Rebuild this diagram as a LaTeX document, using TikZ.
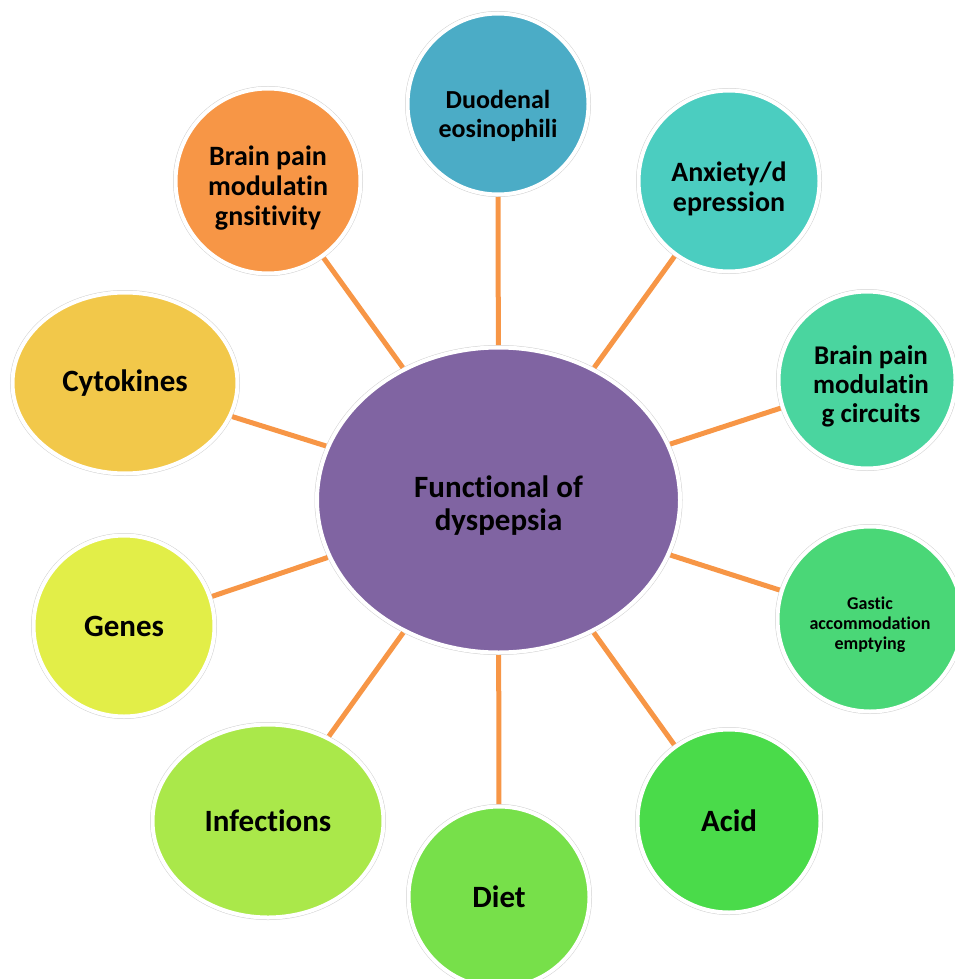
\documentclass[tikz,border=0pt]{standalone}
\usepackage{fontspec}
\setmainfont[Ligatures=NoCommon]{Carlito}
\usetikzlibrary{shapes.geometric}
\definecolor{cCenter}{HTML}{8064A2}
\definecolor{cDuo}{HTML}{4BACC6}
\definecolor{cAnx}{HTML}{4BCDC0}
\definecolor{cCirc}{HTML}{4AD59F}
\definecolor{cGas}{HTML}{4AD777}
\definecolor{cAcid}{HTML}{4ADB4A}
\definecolor{cDiet}{HTML}{77E04A}
\definecolor{cInf}{HTML}{AAE84A}
\definecolor{cGen}{HTML}{E2EE48}
\definecolor{cCyt}{HTML}{F2C84A}
\definecolor{cSens}{HTML}{F79646}
\definecolor{cLink}{HTML}{F79646}
\tikzset{
  ringed/.style={preaction={draw=black!18, line width=5pt}, draw=white, line width=4pt, outer sep=2.5pt, inner sep=0pt},
  sat/.style={ringed, circle, minimum size=#1},
  oval/.style={ringed, ellipse},
  lbl/.style 2 args={text=black, align=center, inner sep=0pt, font=\bfseries\fontsize{#1}{#2}\selectfont},
  link/.style={draw=cLink, line width=5pt}
}
\begin{document}
\begin{tikzpicture}[x=1pt,y=-1pt]
\useasboundingbox (0,0) rectangle (954,979);
% shapes
\node[oval, fill=cCenter, minimum width=363, minimum height=305] (c) at (498.5,500) {};
\node[sat=181, fill=cDuo] (duo) at (498,104) {};
\node[sat=181, fill=cAnx] (anx) at (729,181) {};
\node[sat=177, fill=cCirc] (circ) at (867,380) {};
\node[sat=185, fill=cGas] (gas) at (870,619) {};
\node[sat=183, fill=cAcid] (acid) at (729,821) {};
\node[sat=181, fill=cDiet] (diet) at (499,897) {};
\node[oval, fill=cInf, minimum width=231, minimum height=193] (inf) at (268,821) {};
\node[sat=181, fill=cGen] (gen) at (124,626) {};
\node[oval, fill=cCyt, minimum width=225, minimum height=181] (cyt) at (125,383) {};
\node[sat=185, fill=cSens] (sens) at (268,181) {};
% labels
\node[lbl={31}{33}] (ct) at (498.5,506) {Functional of\\dyspepsia};
\node[lbl={26}{29}] (duot) at (498,115.5) {Duodenal\\eosinophili};
\node[lbl={28}{30}] (anxt) at (729,189) {Anxiety/d\\epression};
\node[lbl={27}{29}] (circt) at (871,386) {Brain pain\\modulatin\\g circuits};
\node[lbl={18}{20}] (gast) at (870,624.5) {Gastic\\accommodation\\emptying};
\node[lbl={31}{33}] (acidt) at (729,821) {Acid};
\node[lbl={31}{33}] (dietT) at (499,897) {Diet};
\node[lbl={31}{33}] (inft) at (268,821) {Infections};
\node[lbl={31}{33}] (gent) at (124,626) {Genes};
\node[lbl={31}{33}] (cytt) at (125,383) {Cytokines};
\node[lbl={28}{30}] (senst) at (268,188) {Brain pain\\modulatin\\gnsitivity};
\foreach \s in {duo,anx,circ,gas,acid,diet,inf,gen,cyt,sens}{
  \draw[link] (c) -- (\s);
}
\end{tikzpicture}
\end{document}
